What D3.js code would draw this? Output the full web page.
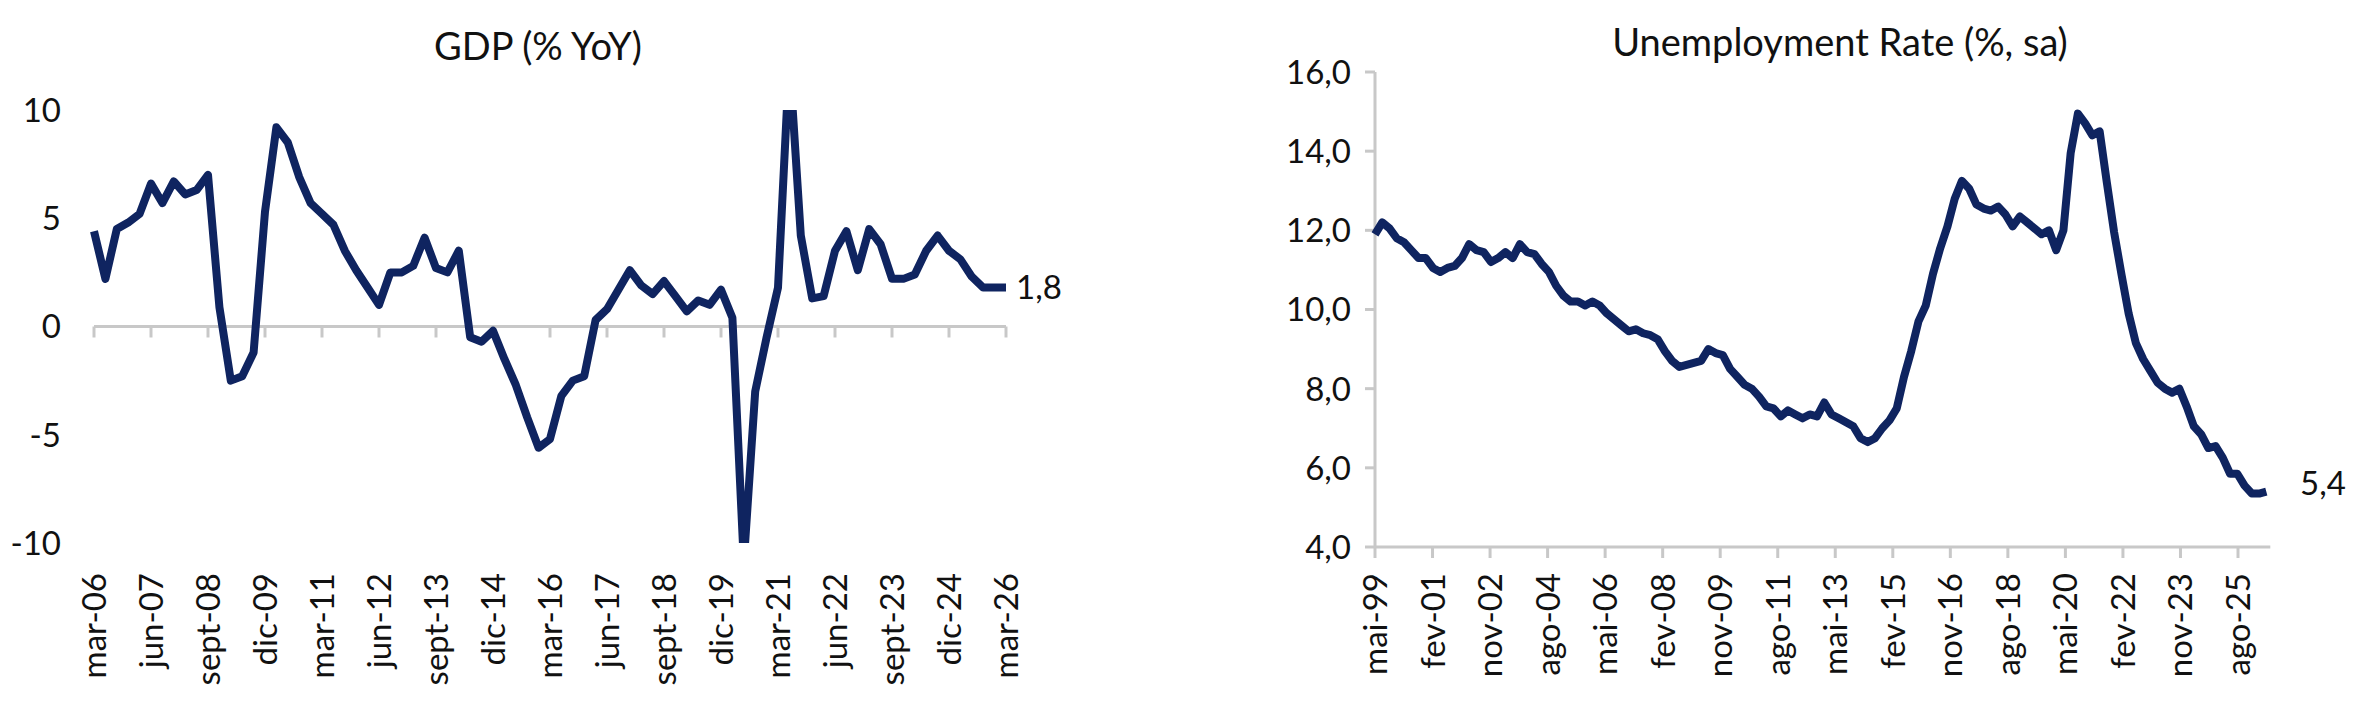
<!DOCTYPE html>
<html>
<head>
<meta charset="utf-8">
<script src="https://cdn.jsdelivr.net/npm/d3@7"></script>
<style>
  body { margin: 0; background: #fff; }
  text { font-family: Lato, "Open Sans", sans-serif; fill: #111; }
</style>
</head>
<body>
<svg id="chart" width="2365" height="701"></svg>
<script>
// GDP, quarterly from mar-06
const gdpValues = [4.4, 2.2, 4.5, 4.8, 5.2, 6.6, 5.7, 6.7, 6.1, 6.3,
  7.0, 0.9, -2.5, -2.3, -1.2, 5.3, 9.2, 8.5, 6.9, 5.7,
  5.2, 4.7, 3.5, 2.6, 1.8, 1.0, 2.5, 2.5, 2.8, 4.1,
  2.7, 2.5, 3.5, -0.5, -0.7, -0.2, -1.5, -2.7, -4.2, -5.6,
  -5.2, -3.2, -2.5, -2.3, 0.3, 0.8, 1.7, 2.6, 1.9, 1.5,
  2.1, 1.4, 0.7, 1.2, 1.0, 1.7, 0.4, -10.9, -3.0, -0.5,
  1.8, 12.4, 4.2, 1.3, 1.4, 3.5, 4.4, 2.6, 4.5, 3.8,
  2.2, 2.2, 2.4, 3.5, 4.2, 3.5, 3.1, 2.3, 1.8, 1.8, 1.8];
const gdpTicks = ['mar-06', 'jun-07', 'sept-08', 'dic-09', 'mar-11', 'jun-12', 'sept-13', 'dic-14',
  'mar-16', 'jun-17', 'sept-18', 'dic-19', 'mar-21', 'jun-22', 'sept-23', 'dic-24', 'mar-26'];
const gdpYTicks = [10, 5, 0, -5, -10];
const gdpLastLabel = '1,8';

// Unemployment, sampled roughly every 2.6 months from mai-99
const unempStepMonths = 2.645;
const unempValues = [11.9, 12.2, 12.05, 11.8, 11.7, 11.5, 11.3, 11.3, 11.05, 10.95,
  11.05, 11.1, 11.3, 11.65, 11.5, 11.45, 11.2, 11.3, 11.45, 11.3,
  11.65, 11.45, 11.4, 11.15, 10.95, 10.6, 10.35, 10.2, 10.2, 10.1,
  10.2, 10.1, 9.9, 9.75, 9.6, 9.45, 9.5, 9.4, 9.35, 9.25,
  8.95, 8.7, 8.55, 8.6, 8.65, 8.7, 9.0, 8.9, 8.85, 8.5,
  8.3, 8.1, 8.0, 7.8, 7.55, 7.5, 7.3, 7.45, 7.35, 7.25,
  7.35, 7.3, 7.65, 7.35, 7.25, 7.15, 7.05, 6.75, 6.65, 6.75,
  7.0, 7.2, 7.5, 8.3, 8.95, 9.7, 10.1, 10.9, 11.55, 12.1,
  12.8, 13.25, 13.05, 12.65, 12.55, 12.5, 12.6, 12.4, 12.1, 12.35,
  12.2, 12.05, 11.9, 12.0, 11.5, 12.0, 13.95, 14.95, 14.7, 14.4,
  14.5, 13.2, 11.95, 10.9, 9.9, 9.15, 8.75, 8.45, 8.15, 8.0,
  7.9, 8.0, 7.55, 7.05, 6.85, 6.5, 6.55, 6.25, 5.85, 5.85,
  5.55, 5.35, 5.35, 5.4];
const unempTicks = ['mai-99', 'fev-01', 'nov-02', 'ago-04', 'mai-06', 'fev-08', 'nov-09', 'ago-11',
  'mai-13', 'fev-15', 'nov-16', 'ago-18', 'mai-20', 'fev-22', 'nov-23', 'ago-25'];
const unempYTicks = [4, 6, 8, 10, 12, 14, 16];
const unempLastLabel = '5,4';

const navy = '#0f2460';
const grey = '#c8c8c8';
const svg = d3.select('#chart');

// ---------- GDP ----------
{
  const x = d3.scaleLinear().domain([0, 80]).range([94, 1006]);
  const y = d3.scaleLinear().domain([-10, 10]).range([543, 110]);
  const g = svg.append('g');

  g.append('text').attr('x', 538).attr('y', 60).attr('text-anchor', 'middle')
    .attr('font-size', 38).text('GDP (% YoY)');

  g.append('line').attr('x1', x(0)).attr('x2', x(80)).attr('y1', y(0)).attr('y2', y(0))
    .attr('stroke', grey).attr('stroke-width', 3);
  g.selectAll('.tk').data(gdpTicks).enter().append('line')
    .attr('x1', (d, i) => x(i * 5)).attr('x2', (d, i) => x(i * 5))
    .attr('y1', y(0)).attr('y2', y(0) + 11).attr('stroke', grey).attr('stroke-width', 3);

  g.selectAll('.yl').data(gdpYTicks).enter().append('text')
    .attr('x', 61).attr('y', d => y(d)).attr('dy', '0.36em').attr('text-anchor', 'end')
    .attr('font-size', 33).text(d => d);

  g.selectAll('.xl').data(gdpTicks).enter().append('text')
    .attr('transform', (d, i) => `translate(${x(i * 5) + 12},573) rotate(-90)`)
    .attr('text-anchor', 'end').attr('font-size', 33).text(d => d);

  g.append('clipPath').attr('id', 'gclip').append('rect')
    .attr('x', 60).attr('y', y(10)).attr('width', 1000).attr('height', y(-10) - y(10));
  g.append('path').datum(gdpValues).attr('clip-path', 'url(#gclip)')
    .attr('d', d3.line().x((d, i) => x(i)).y(d => y(d)))
    .attr('fill', 'none').attr('stroke', navy).attr('stroke-width', 8).attr('stroke-linejoin', 'round');

  g.append('text').attr('x', 1016).attr('y', y(gdpValues[gdpValues.length - 1]))
    .attr('dy', '0.36em').attr('font-size', 33).text(gdpLastLabel);
}

// ---------- Unemployment ----------
{
  const lastMonth = (unempValues.length - 1) * unempStepMonths;
  const x = d3.scaleLinear().domain([0, 315]).range([1375, 2238]);
  const y = d3.scaleLinear().domain([4, 16]).range([547, 72]);
  const g = svg.append('g');
  const fmt = d => d3.format('.1f')(d).replace('.', ',');

  g.append('text').attr('x', 1840).attr('y', 56).attr('text-anchor', 'middle')
    .attr('font-size', 38).text('Unemployment Rate (%, sa)');

  g.append('line').attr('x1', x(0)).attr('x2', x(0)).attr('y1', y(16)).attr('y2', y(4))
    .attr('stroke', grey).attr('stroke-width', 3);
  g.append('line').attr('x1', x(0)).attr('x2', x(lastMonth) + 4).attr('y1', y(4)).attr('y2', y(4))
    .attr('stroke', grey).attr('stroke-width', 3);
  g.selectAll('.ytk').data(unempYTicks).enter().append('line')
    .attr('x1', x(0) - 10).attr('x2', x(0)).attr('y1', d => y(d)).attr('y2', d => y(d))
    .attr('stroke', grey).attr('stroke-width', 3);
  g.selectAll('.xtk').data(unempTicks).enter().append('line')
    .attr('x1', (d, i) => x(i * 21)).attr('x2', (d, i) => x(i * 21))
    .attr('y1', y(4)).attr('y2', y(4) + 11).attr('stroke', grey).attr('stroke-width', 3);

  g.selectAll('.yl').data(unempYTicks).enter().append('text')
    .attr('x', 1351).attr('y', d => y(d)).attr('dy', '0.36em').attr('text-anchor', 'end')
    .attr('font-size', 33).text(fmt);

  g.selectAll('.xl').data(unempTicks).enter().append('text')
    .attr('transform', (d, i) => `translate(${x(i * 21) + 12},573) rotate(-90)`)
    .attr('text-anchor', 'end').attr('font-size', 33).text(d => d);

  g.append('path').datum(unempValues)
    .attr('d', d3.line().x((d, i) => x(i * unempStepMonths)).y(d => y(d)))
    .attr('fill', 'none').attr('stroke', navy).attr('stroke-width', 8).attr('stroke-linejoin', 'round');

  g.append('text').attr('x', 2300).attr('y', y(unempValues[unempValues.length - 1]) - 8)
    .attr('dy', '0.36em').attr('font-size', 33).text(unempLastLabel);
}
</script>
</body>
</html>
